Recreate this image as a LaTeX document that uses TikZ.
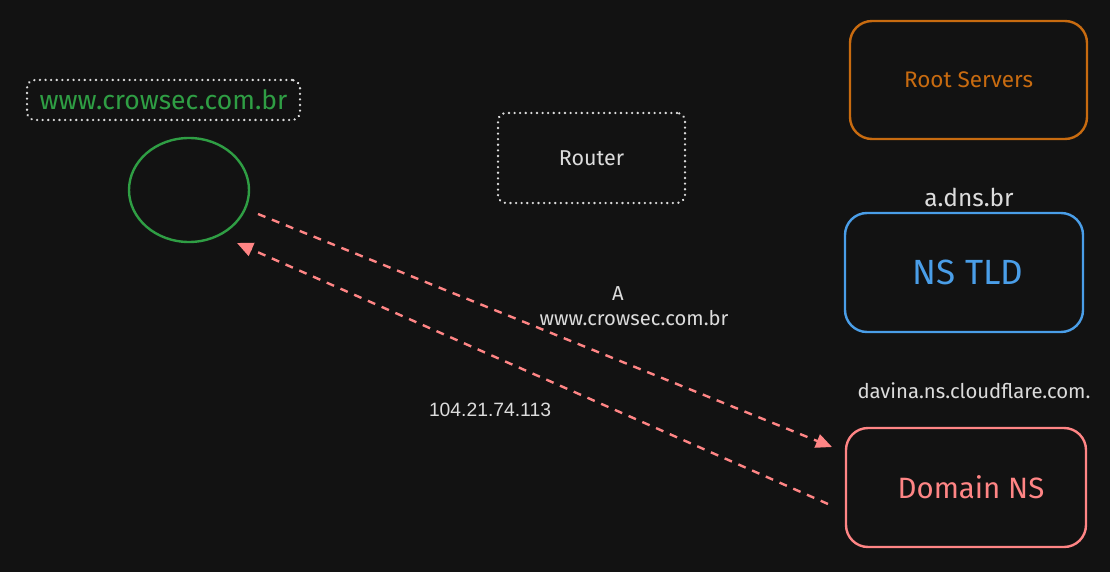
\documentclass[tikz,border=0pt]{standalone}
\usepackage{fontspec}
\setmainfont{Fira Sans}
\newfontfamily\plainfont{Liberation Sans}
\usetikzlibrary{arrows.meta,shapes.geometric}
\definecolor{bg}{HTML}{121212}
\definecolor{fg}{HTML}{DCDCDC}
\definecolor{grn}{HTML}{2F9E44}
\definecolor{org}{HTML}{C86B10}
\definecolor{blu}{HTML}{4A9EE8}
\definecolor{rd}{HTML}{FF8585}
\tikzset{
  bigbox/.style={draw, line width=2.4pt, rounded corners=22pt, minimum width=237pt, minimum height=118pt, inner sep=0pt},
  dotbox/.style={draw=fg, line width=2.5pt, dash pattern=on 0.1pt off 5.5pt, line cap=round, rounded corners=8pt, inner sep=0pt},
  lbl/.style={text=fg, inner sep=0pt, font=\fontsize{17}{20}\selectfont},
  arr/.style={draw=rd, line width=2.4pt, dash pattern=on 8pt off 7pt, -{Triangle[length=16pt,width=14pt]}},
}
\begin{document}
\begin{tikzpicture}[x=1pt,y=-1pt]
\fill[bg] (0,0) rectangle (1110,572);
\useasboundingbox (0,0) rectangle (1110,572);
% client
\node[dotbox, minimum width=273pt, minimum height=40pt, text=grn, font=\fontsize{26.5}{30}\selectfont] (url) at (163.5,100) {www.crowsec.com.br};
\node[draw=grn, line width=2.4pt, ellipse, minimum width=120pt, minimum height=104pt, inner sep=0pt] (c) at (189,190) {};
% router
\node[dotbox, minimum width=187pt, minimum height=90pt, text=fg, font=\fontsize{21.5}{24}\selectfont] (router) at (591.5,158) {Router};
% servers
\node[bigbox, draw=org, text=org, font=\fontsize{22.5}{26}\selectfont] (root) at (968.5,80) {Root Servers};
\node[lbl, font=\fontsize{24.5}{28}\selectfont] (tldname) at (969,197) {a.dns.br};
\node[bigbox, draw=blu, text=blu, minimum width=238pt, minimum height=119pt, font=\fontsize{35}{40}\selectfont] (tld) at (964,272.5) {\hspace*{8pt}NS TLD};
\node[lbl, font=\fontsize{20.3}{24}\selectfont] (nsname) at (974,391) {davina.ns.cloudflare.com.};
\node[bigbox, draw=rd, text=rd, minimum width=240pt, minimum height=119pt, font=\fontsize{29.4}{34}\selectfont] (dns) at (966,487.5) {\hspace*{10pt}Domain NS};
% connectors
\coordinate (q1) at (258,214);
\coordinate (q2) at (832,447);
\coordinate (r1) at (828,504);
\coordinate (r2) at (237,243);
\draw[arr] (q1) -- (q2);
\draw[arr] (r1) -- (r2);
\node[lbl, align=center, font=\fontsize{20.2}{25}\selectfont] (qlabel) at (634,306) {A\hspace*{32pt}\\www.crowsec.com.br};
\node[lbl, font=\plainfont\fontsize{19.3}{22}\selectfont] (ans) at (490,410) {104.21.74.113};
\end{tikzpicture}
\end{document}
